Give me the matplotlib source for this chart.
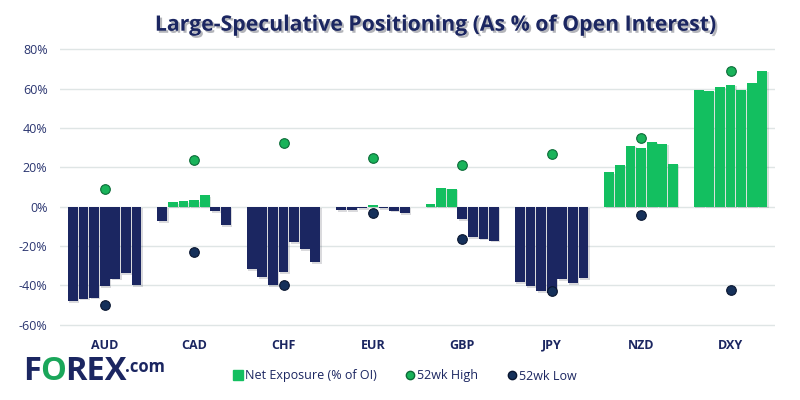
import numpy as np
import matplotlib
matplotlib.use("Agg")
import matplotlib.pyplot as plt
import matplotlib.patheffects as pe
from matplotlib.lines import Line2D

plt.rcParams['font.family'] = ['Open Sans', 'DejaVu Sans']

# --- data ---
currencies = ["AUD", "CAD", "CHF", "EUR", "GBP", "JPY", "NZD", "DXY"]
net_exposure = {
    "AUD": [-48.1, -46.9, -46.4, -40.5, -36.7, -33.9, -40.0],
    "CAD": [-7.4, 2.2, 2.7, 3.2, 5.8, -2.4, -9.5],
    "CHF": [-31.8, -35.9, -40.0, -33.4, -18.1, -21.7, -28.3],
    "EUR": [-1.9, -1.9, -0.8, 0.7, -0.8, -2.2, -3.4],
    "GBP": [1.2, 9.6, 9.1, -6.5, -15.6, -16.2, -17.2],
    "JPY": [-38.4, -40.5, -43.0, -43.8, -36.9, -38.9, -36.4],
    "NZD": [17.4, 21.2, 30.8, 29.6, 32.8, 31.8, 21.7],
    "DXY": [59.4, 58.9, 60.9, 62.0, 59.4, 62.6, 69.1],
}
high_52wk = [9.1, 23.5, 32.5, 24.5, 21.3, 26.9, 34.7, 69.1]
low_52wk = [-50.1, -23.2, -39.6, -3.0, -16.6, -43.0, -4.1, -42.5]
yticks = [-60, -40, -20, 0, 20, 40, 60, 80]
legend_labels = ["Net Exposure (% of OI)", "52wk High", "52wk Low"]

navy = "#1b2661"
green = "#13bf60"
dark_dot = "#15305a"

fig = plt.figure(figsize=(8, 4), dpi=100)
ax = fig.add_axes([0.075, 0.178, 0.894, 0.709])

step = 0.1186
width = 0.108
shadow = [pe.SimplePatchShadow(offset=(1, -1), alpha=0.15), pe.Normal()]
for i, cur in enumerate(currencies):
    vals = np.array(net_exposure[cur])
    xs = i + (np.arange(len(vals)) - 3) * step
    cols = [green if v > 0 else navy for v in vals]
    ax.bar(xs, vals, width=width, color=cols, zorder=2, path_effects=shadow)

xc = np.arange(len(currencies))
ax.scatter(xc, high_52wk, s=48, color="#19b35a", edgecolors="#0c6b38",
           linewidths=0.8, zorder=4, clip_on=False)
ax.scatter(xc, low_52wk, s=48, color=dark_dot, edgecolors="#0a1630",
           linewidths=0.8, zorder=4, clip_on=False)

ax.set_xlim(-0.5, len(currencies) - 0.5)
ax.set_ylim(-62, 82)
ax.set_yticks(yticks)
ax.set_yticklabels([f"{t}%" for t in yticks])
ax.set_xticks(xc)
ax.set_xticklabels(currencies, fontweight="bold")
ax.tick_params(axis="x", length=0, pad=7, labelsize=9, colors=navy)
ax.tick_params(axis="y", length=0, pad=9, labelsize=9, colors="#2a3570")
ax.grid(axis="y", color="#dfe5e5", linewidth=1, zorder=0)
ax.set_axisbelow(True)
for s in ax.spines.values():
    s.set_visible(False)

# title
fig.text(0.545, 0.937, "Large-Speculative Positioning (As % of Open Interest)",
         ha="center", va="center", fontsize=15.3, fontweight="bold", color=navy,
         path_effects=[pe.withSimplePatchShadow(offset=(1.5, -1.5), alpha=0.3)])

# legend
handles = [
    Line2D([], [], marker="s", linestyle="none", markersize=6.5, color=green),
    Line2D([], [], marker="o", linestyle="none", markersize=6,
           color="#19b35a", markeredgecolor="#0c6b38"),
    Line2D([], [], marker="o", linestyle="none", markersize=6,
           color=dark_dot, markeredgecolor="#0a1630"),
]
leg = fig.legend(handles, legend_labels,
                 loc="center", bbox_to_anchor=(0.505, 0.06), ncol=3, frameon=False,
                 fontsize=9, handletextpad=0.05, columnspacing=2.2, handlelength=1)
for t in leg.get_texts():
    t.set_color(navy)

# logo, letters placed one after another
fig.canvas.draw()
renderer = fig.canvas.get_renderer()
x = 23
for txt, col, size, dy in [("F", navy, 23.5, 0), ("O", "#1aa65a", 23.5, 0),
                           ("REX", navy, 23.5, 0), (".com", navy, 12, 5)]:
    t = fig.text(x / 800, (400 - 372 + dy) / 400, txt, fontsize=size,
                 fontweight="bold", color=col, va="center")
    bb = t.get_window_extent(renderer)
    x = bb.x1 - 1

fig.savefig("out.png", dpi=100)
